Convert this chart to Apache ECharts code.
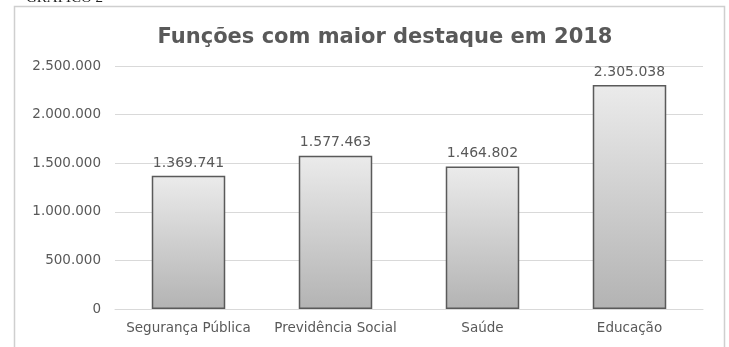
<!DOCTYPE html>
<html>
<head>
<meta charset="utf-8">
<script src="https://cdn.jsdelivr.net/npm/echarts@6/dist/echarts.min.js"></script>
<style>
  html, body { margin: 0; padding: 0; background: #fff; }
  #main { width: 729px; height: 347px; }
</style>
</head>
<body>
<div id="main"></div>
<script>
const categories = ['Segurança Pública', 'Previdência Social', 'Saúde', 'Educação'];
const values = [1369741, 1577463, 1464802, 2305038];
const yTicks = [0, 500000, 1000000, 1500000, 2000000, 2500000];

function fmt(v) {
  return String(v).replace(/\B(?=(\d{3})+(?!\d))/g, '.');
}

const chart = echarts.init(document.getElementById('main'), null, { renderer: 'canvas' });

const option = {
  backgroundColor: '#ffffff',
  animation: false,
  textStyle: { fontFamily: 'DejaVu Sans' },
  title: {
    text: 'Funções com maior destaque em 2018',
    left: 380,
    top: 22,
    textAlign: 'center',
    textStyle: { fontSize: 21, fontWeight: 'bold', color: '#595959', fontFamily: 'DejaVu Sans' }
  },
  graphic: [
    {
      type: 'rect',
      shape: { x: 14.5, y: 6.5, width: 710, height: 350 },
      style: { fill: 'none', stroke: '#cfcfcf', lineWidth: 1.5 },
      silent: true
    },
    {
      type: 'text',
      x: 26,
      y: -9,
      style: { text: 'GRÁFICO 2', fontFamily: 'Liberation Serif', fontSize: 15, fill: '#222' }
    }
  ],
  grid: { left: 115, right: 26, top: 66, bottom: 38 },
  xAxis: {
    type: 'category',
    data: categories,
    axisLine: { lineStyle: { color: '#d9d9d9' } },
    axisTick: { show: false },
    axisLabel: { color: '#595959', fontSize: 13.5, margin: 12, interval: 0 }
  },
  yAxis: {
    type: 'value',
    min: yTicks[0],
    max: yTicks[yTicks.length - 1],
    interval: yTicks[1] - yTicks[0],
    axisLine: { show: false },
    axisTick: { show: false },
    splitLine: { lineStyle: { color: '#d9d9d9' } },
    axisLabel: { color: '#595959', fontSize: 13.5, margin: 14, formatter: fmt }
  },
  series: [{
    type: 'bar',
    data: values,
    barWidth: '50%',
    itemStyle: {
      color: new echarts.graphic.LinearGradient(0, 0, 0, 1, [
        { offset: 0, color: '#ebebeb' },
        { offset: 1, color: '#b3b3b3' }
      ]),
      borderColor: '#5a5a5a',
      borderWidth: 1.5
    },
    label: {
      show: true,
      position: 'top',
      distance: 6,
      color: '#595959',
      fontSize: 14,
      formatter: p => fmt(p.value)
    }
  }]
};

chart.setOption(option);
</script>
</body>
</html>
